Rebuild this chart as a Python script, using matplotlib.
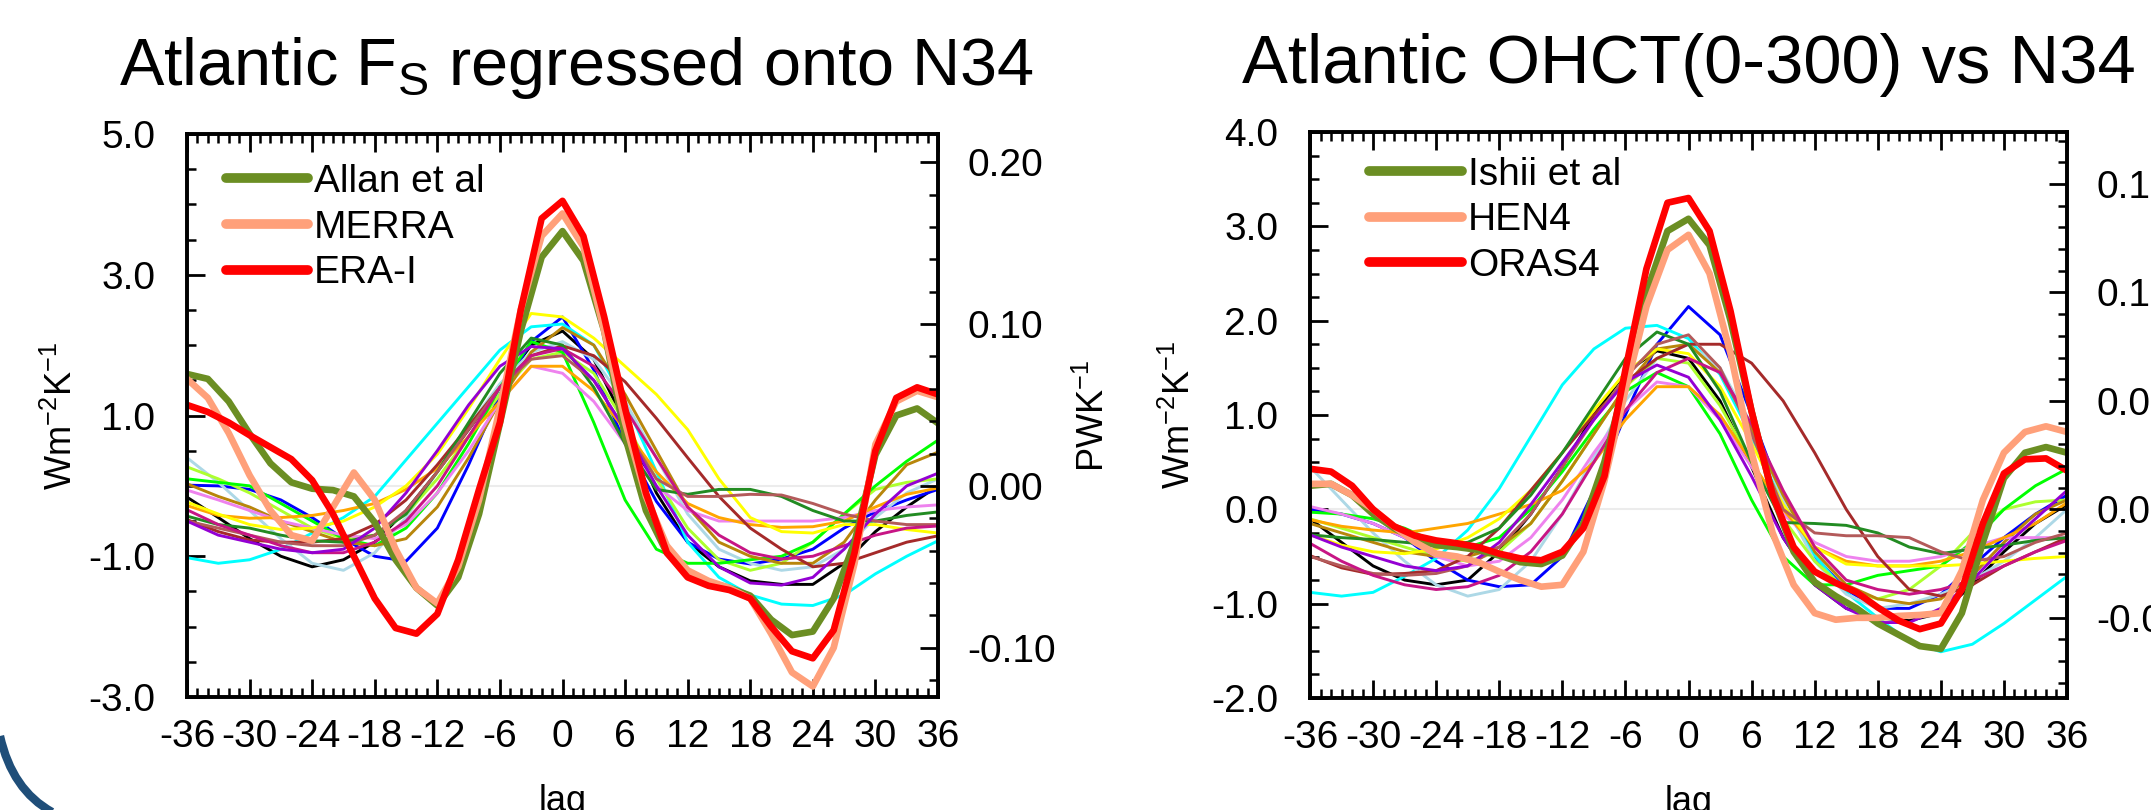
import numpy as np
import matplotlib
matplotlib.use('Agg')
import matplotlib.pyplot as plt
from matplotlib.ticker import FixedLocator, MultipleLocator, FormatStrFormatter
from matplotlib.lines import Line2D
from matplotlib.path import Path
from matplotlib.patches import PathPatch

plt.rcParams['font.family'] = ['Liberation Sans', 'DejaVu Sans']
plt.rcParams['mathtext.fontset'] = 'custom'
plt.rcParams['mathtext.rm'] = 'Liberation Sans'
plt.rcParams['mathtext.it'] = 'Liberation Sans:italic'
plt.rcParams['axes.unicode_minus'] = False

# lag in months: observations every 2 months, models every 3 months
lags_obs = np.arange(-36, 37, 2)
lags_mod = np.arange(-36, 37, 3)

# W m-2 K-1 -> PW K-1 for the Atlantic
pw_per_wm2 = 0.0435

# ---- Atlantic surface flux (F_S) regressed onto N34 ----
fs_allan = [1.59, 1.52, 1.20, 0.74, 0.32, 0.05, -0.04, -0.06, -0.15, -0.52, -1.05, -1.45, -1.70,
            -1.30, -0.40, 0.89, 2.20, 3.25, 3.62, 3.20, 2.20, 0.70, -0.35, -0.95, -1.26, -1.37,
            -1.45, -1.56, -1.90, -2.12, -2.07, -1.60, -0.80, 0.44, 1.00, 1.10, 0.89]
fs_merra = [1.52, 1.25, 0.75, 0.15, -0.35, -0.70, -0.78, -0.30, 0.19, -0.20, -0.90, -1.45, -1.67,
            -1.15, -0.20, 1.11, 2.50, 3.55, 3.87, 3.40, 2.20, 0.90, -0.15, -0.85, -1.20, -1.35,
            -1.45, -1.60, -2.10, -2.65, -2.85, -2.30, -1.10, 0.59, 1.20, 1.35, 1.26]
fs_era = [1.15, 1.05, 0.90, 0.72, 0.55, 0.38, 0.08, -0.40, -1.00, -1.60, -2.02, -2.10, -1.82,
          -1.05, -0.05, 0.90, 2.50, 3.80, 4.05, 3.55, 2.40, 1.10, -0.10, -0.95, -1.30, -1.42,
          -1.48, -1.60, -2.00, -2.35, -2.45, -2.05, -0.95, 0.50, 1.25, 1.40, 1.30]

fs_models = {
    'black': [-0.16, -0.45, -0.75, -1.00, -1.15, -1.05, -0.80, -0.35, 0.20, 0.80, 1.40, 2.00, 2.20,
              1.80, 0.90, -0.10, -0.80, -1.15, -1.35, -1.40, -1.40, -1.10, -0.65, -0.30, 0.00],
    'blue': [0.01, 0.00, -0.05, -0.20, -0.45, -0.75, -1.00, -1.07, -0.60, 0.30, 1.30, 2.05, 2.40,
             1.65, 0.60, -0.22, -0.80, -1.04, -1.11, -1.04, -0.90, -0.60, -0.37, -0.20, -0.05],
    'cyan': [-1.02, -1.10, -1.05, -0.90, -0.67, -0.45, -0.15, 0.37, 0.89, 1.41, 1.93, 2.26, 2.30,
             2.00, 1.20, 0.20, -0.80, -1.30, -1.55, -1.68, -1.70, -1.55, -1.25, -1.00, -0.78],
    'lightblue': [0.40, 0.05, -0.35, -0.75, -1.10, -1.20, -0.95, -0.45, 0.20, 0.85, 1.45, 1.90, 2.05,
                  1.80, 1.20, 0.40, -0.40, -0.90, -1.10, -1.20, -1.15, -0.90, -0.45, -0.10, 0.10],
    'greenyellow': [0.27, 0.10, -0.10, -0.35, -0.60, -0.75, -0.70, -0.40, 0.10, 0.70, 1.30, 1.80, 1.90,
                    1.60, 0.90, 0.10, -0.60, -1.05, -1.20, -1.10, -0.80, -0.40, -0.05, 0.05, 0.10],
    'lime': [0.10, 0.05, 0.00, -0.25, -0.50, -0.75, -0.85, -0.60, -0.10, 0.60, 1.40, 2.05, 1.90,
             0.90, -0.20, -0.90, -1.10, -1.10, -1.05, -1.00, -0.80, -0.40, 0.00, 0.35, 0.65],
    'darkgoldenrod': [0.03, -0.15, -0.30, -0.50, -0.65, -0.80, -0.85, -0.75, -0.30, 0.40, 1.20, 1.90, 2.25,
                      2.00, 1.30, 0.50, -0.30, -0.80, -1.00, -1.10, -1.10, -0.80, -0.20, 0.30, 0.48],
    'violet': [-0.06, -0.20, -0.35, -0.50, -0.60, -0.70, -0.75, -0.55, -0.10, 0.50, 1.20, 1.70, 1.60,
               1.20, 0.60, 0.00, -0.35, -0.50, -0.50, -0.50, -0.50, -0.45, -0.35, -0.30, -0.27],
    'orange': [-0.28, -0.42, -0.46, -0.45, -0.42, -0.35, -0.25, -0.05, 0.25, 0.70, 1.20, 1.70, 1.70,
               1.35, 0.80, 0.20, -0.25, -0.45, -0.55, -0.59, -0.58, -0.50, -0.30, -0.12, -0.03],
    'yellow': [-0.23, -0.40, -0.55, -0.62, -0.60, -0.50, -0.30, 0.00, 0.45, 1.10, 1.80, 2.45, 2.40,
               2.10, 1.70, 1.30, 0.80, 0.10, -0.45, -0.65, -0.67, -0.55, -0.55, -0.62, -0.67],
    'brown': [-0.48, -0.65, -0.77, -0.80, -0.80, -0.75, -0.55, -0.20, 0.30, 0.85, 1.40, 1.85, 1.99,
              1.85, 1.48, 0.96, 0.40, -0.15, -0.60, -0.90, -1.15, -1.10, -0.95, -0.80, -0.71],
    'forestgreen': [-0.43, -0.55, -0.60, -0.70, -0.78, -0.80, -0.70, -0.40, 0.20, 0.90, 1.60, 2.10, 2.00,
                    1.40, 0.60, -0.05, -0.12, -0.05, -0.05, -0.15, -0.35, -0.50, -0.50, -0.42, -0.37],
    '#b35a5a': [-0.50, -0.60, -0.70, -0.80, -0.85, -0.85, -0.70, -0.35, 0.20, 0.80, 1.40, 1.80, 1.85,
                1.50, 0.80, 0.10, -0.15, -0.15, -0.12, -0.13, -0.25, -0.40, -0.50, -0.55, -0.55],
    'mediumvioletred': [-0.34, -0.55, -0.70, -0.85, -0.95, -0.95, -0.80, -0.50, 0.00, 0.70, 1.40, 1.85, 1.95,
                        1.70, 1.10, 0.40, -0.30, -0.70, -0.95, -1.04, -1.00, -0.85, -0.70, -0.60, -0.57],
    'darkviolet': [-0.50, -0.70, -0.80, -0.90, -0.95, -0.90, -0.60, -0.10, 0.50, 1.15, 1.70, 1.98, 1.95,
                   1.50, 0.80, 0.00, -0.70, -1.15, -1.38, -1.41, -1.30, -0.90, -0.40, 0.00, 0.18],
}

# ---- Atlantic ocean heat content tendency (0-300 m) vs N34 ----
oh_ishii = [0.25, 0.27, 0.15, -0.05, -0.20, -0.32, -0.38, -0.40, -0.43, -0.49, -0.56, -0.58, -0.49,
            -0.15, 0.50, 1.37, 2.30, 2.95, 3.08, 2.80, 2.00, 1.04, 0.15, -0.45, -0.77, -0.92,
            -1.05, -1.21, -1.33, -1.45, -1.48, -1.10, -0.35, 0.33, 0.60, 0.66, 0.60]
oh_hen4 = [0.27, 0.27, 0.15, 0.00, -0.18, -0.35, -0.47, -0.50, -0.56, -0.66, -0.75, -0.82, -0.80,
           -0.45, 0.30, 1.26, 2.15, 2.75, 2.91, 2.50, 1.65, 0.60, -0.25, -0.80, -1.10, -1.17,
           -1.15, -1.15, -1.13, -1.12, -1.10, -0.65, 0.10, 0.60, 0.82, 0.88, 0.82]
oh_oras4 = [0.43, 0.40, 0.25, 0.00, -0.18, -0.28, -0.33, -0.36, -0.40, -0.47, -0.52, -0.54, -0.45,
            -0.20, 0.35, 1.48, 2.55, 3.25, 3.30, 2.95, 2.10, 1.04, 0.15, -0.40, -0.66, -0.78,
            -0.88, -1.04, -1.18, -1.27, -1.21, -0.85, -0.15, 0.38, 0.53, 0.54, 0.41]

oh_models = {
    'black': [-0.10, -0.35, -0.60, -0.75, -0.80, -0.75, -0.45, -0.05, 0.45, 1.00, 1.45, 1.68, 1.60,
              1.15, 0.45, -0.30, -0.80, -1.05, -1.15, -1.18, -1.10, -0.80, -0.45, -0.15, 0.05],
    'blue': [0.00, -0.05, -0.15, -0.30, -0.55, -0.75, -0.82, -0.80, -0.50, 0.20, 1.00, 1.75, 2.15,
             1.85, 1.00, 0.10, -0.50, -0.85, -1.05, -1.05, -0.90, -0.60, -0.30, -0.05, 0.15],
    'cyan': [-0.88, -0.92, -0.88, -0.71, -0.52, -0.22, 0.22, 0.77, 1.32, 1.70, 1.92, 1.95, 1.81,
             1.43, 0.77, 0.05, -0.49, -0.88, -1.15, -1.40, -1.51, -1.43, -1.21, -0.96, -0.71],
    'lightblue': [0.45, 0.10, -0.25, -0.55, -0.80, -0.92, -0.85, -0.55, -0.05, 0.55, 1.15, 1.60, 1.75,
                  1.50, 0.90, 0.10, -0.55, -0.90, -1.05, -1.00, -0.90, -0.75, -0.55, -0.30, 0.00],
    'greenyellow': [-0.10, -0.20, -0.30, -0.40, -0.50, -0.55, -0.45, -0.15, 0.30, 0.80, 1.30, 1.60, 1.55,
                    1.10, 0.50, -0.10, -0.55, -0.85, -0.95, -0.85, -0.60, -0.25, 0.00, 0.08, 0.10],
    'lime': [-0.03, -0.05, -0.10, -0.20, -0.35, -0.40, -0.30, 0.00, 0.40, 0.85, 1.25, 1.45, 1.30,
             0.80, 0.10, -0.50, -0.80, -0.80, -0.70, -0.65, -0.60, -0.35, 0.00, 0.25, 0.43],
    'darkgoldenrod': [-0.15, -0.25, -0.35, -0.45, -0.50, -0.50, -0.40, -0.15, 0.30, 0.80, 1.30, 1.70, 1.75,
                      1.45, 0.85, 0.15, -0.45, -0.80, -0.95, -1.00, -0.95, -0.70, -0.35, -0.05, 0.10],
    'violet': [0.03, -0.05, -0.15, -0.30, -0.50, -0.60, -0.55, -0.30, 0.10, 0.60, 1.05, 1.35, 1.30,
               0.95, 0.45, -0.05, -0.35, -0.50, -0.55, -0.55, -0.50, -0.40, -0.30, -0.30, -0.30],
    'orange': [-0.11, -0.18, -0.22, -0.25, -0.20, -0.15, -0.05, 0.05, 0.20, 0.50, 0.95, 1.30, 1.30,
               1.00, 0.50, 0.00, -0.40, -0.55, -0.60, -0.60, -0.55, -0.45, -0.30, -0.15, 0.07],
    'yellow': [-0.27, -0.38, -0.45, -0.47, -0.42, -0.30, -0.10, 0.20, 0.60, 1.05, 1.45, 1.70, 1.65,
               1.30, 0.70, 0.05, -0.40, -0.58, -0.60, -0.60, -0.60, -0.58, -0.55, -0.52, -0.50],
    'brown': [-0.49, -0.62, -0.69, -0.68, -0.65, -0.50, -0.20, 0.20, 0.60, 1.00, 1.35, 1.60, 1.75,
              1.75, 1.55, 1.15, 0.60, 0.00, -0.50, -0.85, -0.92, -0.80, -0.60, -0.45, -0.30],
    'forestgreen': [-0.27, -0.30, -0.32, -0.35, -0.38, -0.35, -0.20, 0.15, 0.60, 1.10, 1.60, 1.88, 1.75,
                    1.25, 0.50, -0.14, -0.15, -0.17, -0.25, -0.40, -0.47, -0.42, -0.38, -0.33, -0.30],
    '#b35a5a': [-0.50, -0.60, -0.68, -0.70, -0.68, -0.60, -0.40, -0.05, 0.45, 0.95, 1.40, 1.75, 1.85,
                1.50, 0.80, 0.00, -0.25, -0.28, -0.28, -0.30, -0.45, -0.55, -0.50, -0.35, -0.25],
    'mediumvioletred': [-0.36, -0.55, -0.70, -0.80, -0.85, -0.82, -0.70, -0.45, -0.05, 0.50, 1.05, 1.45, 1.60,
                        1.45, 0.90, 0.20, -0.40, -0.75, -0.85, -0.90, -0.85, -0.75, -0.60, -0.45, -0.33],
    'darkviolet': [-0.27, -0.40, -0.50, -0.60, -0.65, -0.60, -0.35, 0.05, 0.50, 0.95, 1.35, 1.53, 1.40,
                   0.95, 0.35, -0.30, -0.80, -1.05, -1.20, -1.20, -1.05, -0.75, -0.40, -0.10, 0.20],
}

thick_colors = ['olivedrab', 'lightsalmon', 'red']


def draw_panel(ax, models, obs, names, ylim, yticks, yminor, rticks, rminor,
               title, title_size, title_x, leg_xy, hlen, lspace):
    ax.axhline(0, color='#ececec', lw=1.5, zorder=0)
    for c, y in models.items():
        ax.plot(lags_mod, y, color=c, lw=2.1, solid_joinstyle='round', solid_capstyle='round')
    for c, y in zip(thick_colors, obs):
        ax.plot(lags_obs, y, color=c, lw=4.8, solid_joinstyle='round', solid_capstyle='round')

    ax.set_xlim(-36, 36)
    ax.set_ylim(*ylim)
    ax.xaxis.set_major_locator(MultipleLocator(6))
    ax.xaxis.set_minor_locator(MultipleLocator(1))
    ax.yaxis.set_major_locator(FixedLocator(yticks))
    ax.yaxis.set_minor_locator(MultipleLocator(yminor))
    ax.yaxis.set_major_formatter(FormatStrFormatter('%.1f'))
    ax.tick_params(which='both', direction='in', top=True, right=False, width=2)
    ax.tick_params(which='major', length=13, labelsize=28)
    ax.tick_params(axis='y', which='major', pad=23)
    ax.tick_params(axis='x', which='major', pad=16)
    ax.tick_params(which='minor', length=6.5, width=1.8)
    for s in ax.spines.values():
        s.set_linewidth(2.6)

    ax.set_ylabel('Wm$^{-2}$K$^{-1}$', fontsize=26)
    ax.set_xlabel('lag', fontsize=26, labelpad=21)
    ax.set_title(title, fontsize=title_size, pad=35, x=title_x)

    # right-hand axis in PW K-1
    ar = ax.twinx()
    ar.set_ylim(ylim[0] * pw_per_wm2, ylim[1] * pw_per_wm2)
    ar.yaxis.set_major_locator(FixedLocator(rticks))
    ar.yaxis.set_minor_locator(MultipleLocator(rminor))
    ar.yaxis.set_major_formatter(FormatStrFormatter('%.2f'))
    ar.tick_params(which='both', direction='in', width=2)
    ar.tick_params(which='major', length=13, labelsize=28, pad=21)
    ar.tick_params(which='minor', length=6.5, width=1.8)
    for s in ar.spines.values():
        s.set_linewidth(2.6)

    handles = [Line2D([], [], color=c, lw=7, solid_capstyle='round') for c in thick_colors]
    ax.legend(handles, names, loc='upper left', bbox_to_anchor=leg_xy, frameon=False,
              fontsize=28, handlelength=hlen, handletextpad=0.15, labelspacing=lspace,
              borderpad=0, borderaxespad=0)
    return ar


fig = plt.figure(figsize=(21.51, 8.10), dpi=100)
ax1 = fig.add_axes([187 / 2151, 1 - 697 / 810, 751 / 2151, 563 / 810])
ax2 = fig.add_axes([1310 / 2151, 1 - 698 / 810, 757 / 2151, 566 / 810])

ar1 = draw_panel(ax1, fs_models, [fs_allan, fs_merra, fs_era], ['Allan et al', 'MERRA', 'ERA-I'],
                 (-3, 5), [-3, -1, 1, 3, 5], 0.5, [-0.1, 0.0, 0.1, 0.2], 0.02,
                 'Atlantic F$_\\mathrm{S}$ regressed onto N34', 48, 0.518,
                 (0.052, 0.947), 2.1, 0.25)
ar2 = draw_panel(ax2, oh_models, [oh_ishii, oh_hen4, oh_oras4], ['Ishii et al', 'HEN4', 'ORAS4'],
                 (-2, 4), [-2, -1, 0, 1, 2, 3, 4], 0.25, [-0.05, 0.0, 0.05, 0.10, 0.15], 0.01,
                 'Atlantic OHCT(0-300) vs N34', 49.5, 0.5,
                 (0.078, 0.956), 2.4, 0.24)

ax1.yaxis.set_label_coords(-0.142, 0.5)
ax2.yaxis.set_label_coords(-0.148, 0.5)
ar1.set_ylabel('PWK$^{-1}$', fontsize=26)
ar1.yaxis.set_label_coords(1.184, 0.5)

# corner swoosh from the slide background
W, H = 2151, 810
swoosh = Path([(0 / W, 1 - 736 / H), (12 / W, 1 - 790 / H), (52 / W, 1 - 812 / H)],
              [Path.MOVETO, Path.CURVE3, Path.CURVE3])
fig.patches.append(PathPatch(swoosh, transform=fig.transFigure, fill=False,
                             edgecolor='#1f4e79', lw=6))

fig.savefig('out.png', dpi=100)
